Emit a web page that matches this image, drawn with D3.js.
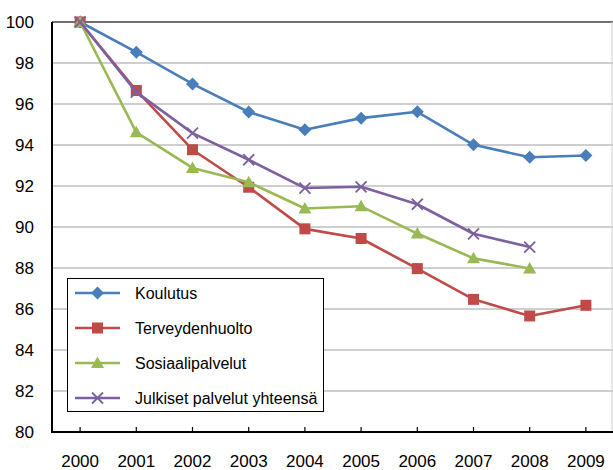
<!DOCTYPE html>
<html><head><meta charset="utf-8">
<script src="https://cdn.jsdelivr.net/npm/d3@7"></script>
<style>
html,body{margin:0;padding:0;background:#fff;}
svg{display:block;}
.tick-label{font-family:"Liberation Sans",Arial,sans-serif;font-size:17px;fill:#000;}
.legend-text{font-family:"Liberation Sans",Arial,sans-serif;font-size:16px;fill:#000;}
</style></head>
<body>
<svg id="chart" width="613" height="470"></svg>
<script>
const years = ["2000","2001","2002","2003","2004","2005","2006","2007","2008","2009"];
const yTicks = [80,82,84,86,88,90,92,94,96,98,100];
const seriesNames = ["Koulutus","Terveydenhuolto","Sosiaalipalvelut","Julkiset palvelut yhteensä"];
const koulutus = [100, 98.53, 96.98, 95.61, 94.74, 95.31, 95.62, 94.01, 93.40, 93.49];
const terveydenhuolto = [100, 96.66, 93.77, 91.94, 89.91, 89.44, 87.97, 86.47, 85.66, 86.18];
const sosiaalipalvelut = [100, 94.62, 92.88, 92.18, 90.90, 91.01, 89.68, 88.47, 87.98];
const julkiset = [100, 96.58, 94.58, 93.28, 91.90, 91.96, 91.11, 89.67, 89.02];

const colors = ["#4A7EBB","#BE4B48","#98B954","#7D60A0"];
const markers = ["diamond","square","triangle","x"];
const data = [koulutus, terveydenhuolto, sosiaalipalvelut, julkiset];

const svg = d3.select("#chart");
const pLeft = 52, pRight = 614, pTop = 22, pBottom = 432;
const x = d3.scaleBand().domain(years).range([pLeft, pRight]).padding(0);
const y = d3.scaleLinear().domain([80,100]).range([pBottom, pTop]);
const cx = d => x(d) + x.bandwidth()/2;

// gridlines
svg.append("g").selectAll("line").data(yTicks.filter(t => t > 80 && t < 100)).join("line")
  .attr("x1", pLeft).attr("x2", pRight).attr("y1", d => y(d)).attr("y2", d => y(d))
  .attr("stroke", "#BFBFBF").attr("stroke-width", 1.5);
// top border
svg.append("line").attr("x1", pLeft).attr("x2", pRight).attr("y1", y(100)).attr("y2", y(100))
  .attr("stroke", "#404040").attr("stroke-width", 1.5);
// right border
svg.append("line").attr("x1", 612).attr("x2", 612).attr("y1", y(100)).attr("y2", y(80))
  .attr("stroke", "#D0D0D0").attr("stroke-width", 1);

// y axis labels
const yAxis = d3.axisLeft(y).tickValues(yTicks).tickSize(0).tickPadding(18);
const gy = svg.append("g").attr("transform", `translate(${pLeft},0)`).call(yAxis);
gy.select(".domain").remove();
gy.selectAll("text").attr("class","tick-label").attr("font-size",null).attr("font-family",null).attr("fill",null);

// x axis
const xAxis = d3.axisBottom(x).tickSize(0).tickPadding(0);
const gx = svg.append("g").attr("transform", `translate(0,${pBottom})`).call(xAxis);
gx.select(".domain").remove();
gx.selectAll("text").attr("class","tick-label").attr("font-size",null).attr("font-family",null).attr("fill",null)
  .attr("dy", null).attr("y", 35);
gx.selectAll(".tick").append("line").attr("y1", 0).attr("y2", -5).attr("stroke", "#000").attr("stroke-width", 1.2);

// axis lines
svg.append("line").attr("x1", pLeft).attr("x2", pLeft).attr("y1", pTop).attr("y2", pBottom+1)
  .attr("stroke", "#000").attr("stroke-width", 2);
svg.append("line").attr("x1", pLeft-1).attr("x2", pRight).attr("y1", pBottom).attr("y2", pBottom)
  .attr("stroke", "#000").attr("stroke-width", 2);

function drawMarker(g, type, color, px, py) {
  const s = 5.5;
  if (type === "diamond") {
    g.append("path").attr("d", `M${px},${py-s-1}L${px+s+1},${py}L${px},${py+s+1}L${px-s-1},${py}Z`).attr("fill", color);
  } else if (type === "square") {
    g.append("rect").attr("x", px-s).attr("y", py-s).attr("width", 2*s).attr("height", 2*s).attr("fill", color);
  } else if (type === "triangle") {
    g.append("path").attr("d", `M${px},${py-s-1}L${px+s+1},${py+s-0.5}L${px-s-1},${py+s-0.5}Z`).attr("fill", color);
  } else {
    g.append("path").attr("d", `M${px-s},${py-s}L${px+s},${py+s}M${px-s},${py+s}L${px+s},${py-s}`)
      .attr("stroke", color).attr("stroke-width", 1.8).attr("fill","none");
  }
}

const line = d3.line().x((d,i) => cx(years[i])).y(d => y(d));
data.forEach((vals, k) => {
  const g = svg.append("g");
  g.append("path").datum(vals).attr("d", line).attr("fill","none")
    .attr("stroke", colors[k]).attr("stroke-width", 2.6).attr("stroke-linejoin","round");
  vals.forEach((v,i) => drawMarker(g, markers[k], colors[k], cx(years[i]), y(v)));
});

// legend
const lg = svg.append("g");
lg.append("rect").attr("x", 67.5).attr("y", 278.5).attr("width", 256).attr("height", 133)
  .attr("fill", "#fff").attr("stroke", "#000").attr("stroke-width", 1);
seriesNames.forEach((name, k) => {
  const ly = 293 + k*35;
  lg.append("line").attr("x1", 75).attr("x2", 120).attr("y1", ly).attr("y2", ly)
    .attr("stroke", colors[k]).attr("stroke-width", 2.6);
  drawMarker(lg, markers[k], colors[k], 97.5, ly);
  lg.append("text").attr("class","legend-text").attr("x", 135).attr("y", ly).attr("dy","0.35em").text(name);
});
</script>
</body></html>
